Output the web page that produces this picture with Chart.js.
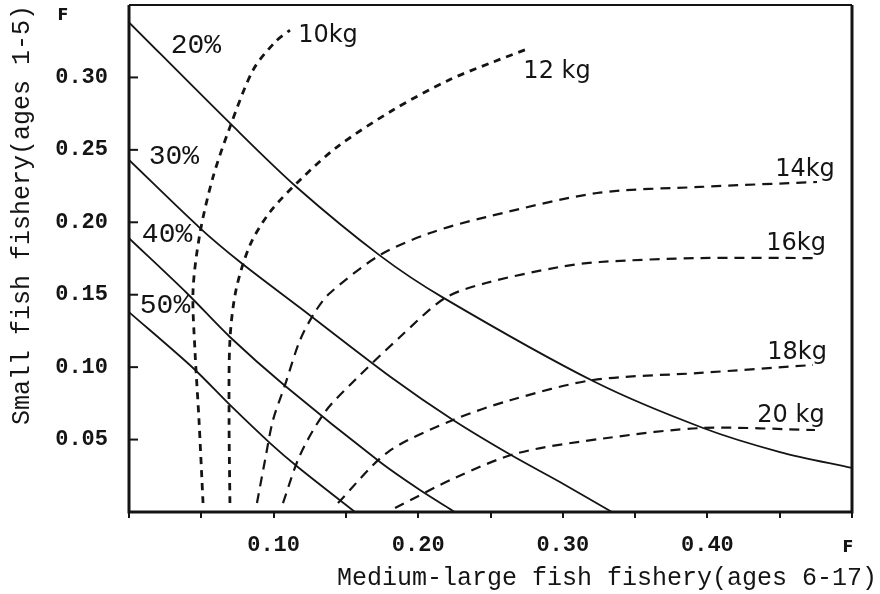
<!DOCTYPE html>
<html>
<head>
<meta charset="utf-8">
<script src="https://cdn.jsdelivr.net/npm/chart.js@4.4.1/dist/chart.umd.min.js"></script>
<style>
  html, body { margin: 0; padding: 0; background: #fff; }
  #wrap { width: 880px; height: 594px; }
</style>
</head>
<body>
<div id="wrap"><canvas id="chart" width="880" height="594"></canvas></div>
<script>
// iso-lines of spawning stock % (solid) and yield per recruit (dashed)
// each point: [F medium-large fish, F small fish]
const curve20pct = [[0,0.338],[0.0712,0.267],[0.1162,0.224],[0.1736,0.177],[0.2172,0.148],[0.3223,0.0897],[0.397,0.058],[0.4502,0.0414],[0.5,0.0304]];
const curve30pct = [[0,0.243],[0.0491,0.196],[0.0768,0.1726],[0.1183,0.141],[0.1812,0.093],[0.2241,0.0635],[0.2642,0.0393],[0.298,0.0207],[0.334,0]];
const curve40pct = [[0,0.189],[0.0401,0.151],[0.0698,0.1208],[0.1072,0.0877],[0.1736,0.0345],[0.2012,0.0152],[0.2254,0]];
const curve50pct = [[0,0.138],[0.0443,0.0994],[0.0698,0.0739],[0.0975,0.0476],[0.1176,0.0304],[0.1563,0]];

const curve10kg = [[0.0512,0.0062],[0.0484,0.0635],[0.0456,0.1118],[0.0443,0.1532],[0.0491,0.1926],[0.0581,0.2312],[0.0698,0.2657],[0.0858,0.3051],[0.101,0.3244],[0.1113,0.3327]];
const curve12kg = [[0.0698,0.0062],[0.0692,0.0635],[0.0698,0.1187],[0.074,0.1532],[0.0837,0.1843],[0.0975,0.2071],[0.1183,0.2292],[0.1438,0.2519],[0.1826,0.2775],[0.2213,0.2982],[0.2517,0.3106],[0.2773,0.3203]];
const curve14kg = [[0.0885,0.0062],[0.0941,0.0359],[0.0996,0.0635],[0.1079,0.0877],[0.1183,0.1187],[0.1286,0.138],[0.139,0.1512],[0.1736,0.1774],[0.2082,0.1926],[0.2469,0.2036],[0.3237,0.2202],[0.3949,0.2244],[0.4758,0.2278]];
const curve16kg = [[0.1065,0.0062],[0.1183,0.0393],[0.1355,0.069],[0.1563,0.0911],[0.1874,0.1208],[0.2185,0.1477],[0.2469,0.1581],[0.2974,0.1691],[0.3257,0.1726],[0.3949,0.1753],[0.4758,0.1753]];
const curve18kg = [[0.1445,0.0062],[0.1791,0.0414],[0.2241,0.0635],[0.2642,0.0773],[0.3209,0.0911],[0.3949,0.096],[0.473,0.1015]];
const curve20kg = [[0.184,0.0028],[0.2268,0.0242],[0.269,0.0407],[0.3306,0.0511],[0.397,0.058],[0.4744,0.0566]];

const solidCurves = [curve20pct, curve30pct, curve40pct, curve50pct];
const dashedCurves = [curve10kg, curve12kg, curve14kg, curve16kg, curve18kg, curve20kg];

// curve labels, anchored in data coordinates
const pctLabels = ['20%', '30%', '40%', '50%'];
const pctLabelX = [0.0463, 0.0311, 0.0263, 0.0249];
const pctLabelY = [0.3217, 0.2451, 0.1912, 0.1422];
const kgLabels = ['10kg', '12 kg', '14kg', '16kg', '18kg', '20 kg'];
const kgLabelX = [0.1376, 0.296, 0.4675, 0.4613, 0.462, 0.4578];
const kgLabelY = [0.3286, 0.3037, 0.2361, 0.185, 0.1098, 0.0663];

const xTitle = 'Medium-large fish fishery(ages 6-17)';
const yTitle = 'Small fish fishery(ages 1-5)';

const INK = '#141414';

function toPoints(arr) {
  return arr.map(p => ({ x: p[0], y: p[1] }));
}

const datasets = [];
solidCurves.forEach(c => {
  datasets.push({
    data: toPoints(c), showLine: true, borderColor: INK, borderWidth: 1.8,
    pointRadius: 0, tension: 0.3, fill: false
  });
});
dashedCurves.forEach((c, i) => {
  // the two steep curves on the left are drawn with shorter, heavier dashes
  const steep = i < 2;
  datasets.push({
    data: toPoints(c), showLine: true, borderColor: INK,
    borderWidth: steep ? 2.8 : 2.2,
    borderDash: steep ? [7, 6] : [10, 7],
    pointRadius: 0, tension: 0.3, fill: false
  });
});

// frame, inner y ticks, curve labels and axis titles
const decorPlugin = {
  id: 'decor',
  afterDraw(chart) {
    const ctx = chart.ctx;
    const a = chart.chartArea;
    const xs = chart.scales.x, ys = chart.scales.y;
    ctx.save();
    ctx.strokeStyle = INK;
    ctx.fillStyle = INK;

    // box
    ctx.lineWidth = 3;
    ctx.beginPath();
    ctx.moveTo(a.left, a.top);
    ctx.lineTo(a.left, a.bottom);
    ctx.lineTo(a.right, a.bottom);
    ctx.lineTo(a.right, a.top);
    ctx.stroke();
    ctx.lineWidth = 2;
    ctx.beginPath();
    ctx.moveTo(a.left, a.top);
    ctx.lineTo(a.right, a.top);
    ctx.stroke();

    // y tick marks point inward
    ctx.lineWidth = 2;
    ys.ticks.forEach(t => {
      const k = Math.round(t.value * 100);
      if (k <= 0 || k > 30) return;
      const py = ys.getPixelForValue(t.value);
      ctx.beginPath();
      ctx.moveTo(a.left, py);
      ctx.lineTo(a.left + 9, py);
      ctx.stroke();
    });

    ctx.textAlign = 'center';
    ctx.textBaseline = 'middle';
    ctx.font = '28px "Liberation Mono"';
    pctLabels.forEach((txt, i) => {
      ctx.fillText(txt, xs.getPixelForValue(pctLabelX[i]), ys.getPixelForValue(pctLabelY[i]));
    });
    ctx.font = '24px "DejaVu Sans"';
    kgLabels.forEach((txt, i) => {
      ctx.fillText(txt, xs.getPixelForValue(kgLabelX[i]), ys.getPixelForValue(kgLabelY[i]));
    });

    // axis titles
    ctx.font = '25px "Liberation Mono"';
    ctx.fillText(xTitle, 607, 578);
    ctx.save();
    ctx.translate(22, 215);
    ctx.rotate(-Math.PI / 2);
    ctx.fillText(yTitle, 0, 0);
    ctx.restore();

    // the little "F" marks
    ctx.font = 'bold 16px "DejaVu Sans"';
    ctx.fillText('F', 63, 16);
    ctx.fillText('F', 848, 548);
    ctx.restore();
  }
};

new Chart(document.getElementById('chart'), {
  type: 'scatter',
  data: { datasets: datasets },
  options: {
    responsive: false,
    animation: false,
    devicePixelRatio: 1,
    layout: { padding: { top: 5, right: 28, left: 0, bottom: 0 } },
    plugins: { legend: { display: false }, tooltip: { enabled: false } },
    scales: {
      x: {
        type: 'linear', min: 0, max: 0.5,
        afterFit: s => { s.height = 82; s.paddingLeft = 0; s.paddingRight = 0; },
        border: { display: false },
        grid: { drawOnChartArea: false, drawTicks: true, tickLength: 6, color: INK, lineWidth: 2 },
        ticks: {
          stepSize: 0.05, autoSkip: false, maxRotation: 0, padding: 14, color: INK,
          font: { family: 'Liberation Mono', size: 22, weight: 'bold' },
          callback: v => {
            const k = Math.round(v * 100);
            return (k % 10 === 0 && k > 0 && k < 50) ? v.toFixed(2) : '';
          }
        }
      },
      y: {
        type: 'linear', min: 0, max: 0.35,
        afterFit: s => { s.width = 129; s.paddingTop = 0; s.paddingBottom = 0; },
        border: { display: false },
        grid: { display: false, drawTicks: false },
        ticks: {
          stepSize: 0.05, autoSkip: false, padding: 21, color: INK,
          font: { family: 'Liberation Mono', size: 22, weight: 'bold' },
          callback: v => {
            const k = Math.round(v * 100);
            return (k > 0 && k <= 30) ? v.toFixed(2) : '';
          }
        }
      }
    }
  },
  plugins: [decorPlugin]
});
</script>
</body>
</html>
